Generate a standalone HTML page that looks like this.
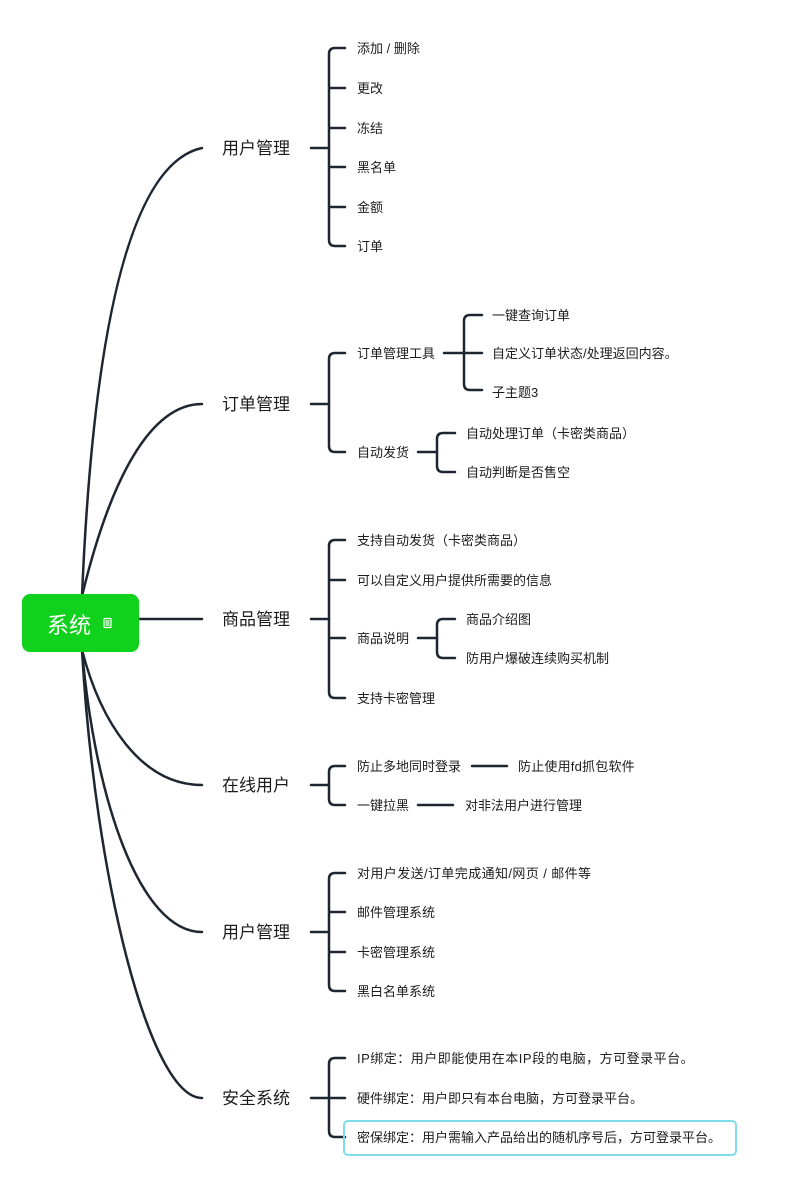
<!DOCTYPE html>
<html><head><meta charset="utf-8"><style>
html,body{margin:0;padding:0;background:#fff;}
svg{display:block;}
text{font-family:"Liberation Sans","Noto Sans CJK SC",sans-serif;fill:#1c1c1c;}
.s{font-size:13px;}
.m{font-size:17px;}
</style></head><body>
<svg width="800" height="1200" viewBox="0 0 800 1200" xmlns="http://www.w3.org/2000/svg">
<g fill="none" stroke="#1e2731" stroke-width="2.5" stroke-linecap="round">
<!-- root connectors -->
<path d="M82 596 Q100 170 202 148"/>
<path d="M82 596 C110 480 150 404 202 404"/>
<path d="M139 619 H202"/>
<path d="M82 650 C100 720 140 785 202 785"/>
<path d="M82 650 C95 800 140 932 202 932"/>
<path d="M82 650 C95 880 150 1098 202 1098"/>

<!-- section 1 -->
<path d="M311 148 H329"/>
<path d="M345 48 H335 Q329 48 329 54 V240 Q329 246 335 246 H345"/>
<path d="M329 88 H345 M329 128 H345 M329 167 H345 M329 207 H345"/>

<!-- section 2 -->
<path d="M311 404 H329"/>
<path d="M345 353 H335 Q329 353 329 359 V446 Q329 452 335 452 H345"/>
<path d="M444 353 H464"/>
<path d="M482 315 H470 Q464 315 464 321 V384 Q464 390 470 390 H482"/>
<path d="M464 353 H482"/>
<path d="M418 452 H437"/>
<path d="M455 433 H443 Q437 433 437 439 V466 Q437 472 443 472 H455"/>

<!-- section 3 -->
<path d="M311 619 H329"/>
<path d="M345 540 H335 Q329 540 329 546 V692 Q329 698 335 698 H345"/>
<path d="M329 580 H345 M329 638 H345"/>
<path d="M418 638 H437"/>
<path d="M455 619 H443 Q437 619 437 625 V652 Q437 658 443 658 H455"/>

<!-- section 4 -->
<path d="M311 785 H329"/>
<path d="M345 766 H335 Q329 766 329 772 V799 Q329 805 335 805 H345"/>
<path d="M472 766 H507"/>
<path d="M418 805 H453"/>

<!-- section 5 -->
<path d="M311 932 H329"/>
<path d="M345 873 H335 Q329 873 329 879 V985 Q329 991 335 991 H345"/>
<path d="M329 912 H345 M329 952 H345"/>

<!-- section 6 -->
<path d="M311 1098 H345"/>
<path d="M345 1058 H335 Q329 1058 329 1064 V1131 Q329 1137 335 1137 H345"/>
</g>

<!-- highlight box -->
<rect x="344" y="1121" width="392" height="34" rx="4" ry="4" fill="none" stroke="#7fdcec" stroke-width="2"/>

<!-- root -->
<rect x="22" y="594" width="117" height="58" rx="8" ry="8" fill="#10d21d"/>
<text x="47" y="633" style="font-size:22px;fill:#ffffff;">系统</text>
<g fill="none" stroke="#ffffff" stroke-width="1.2">
<rect x="104" y="618.5" width="7" height="9" rx="1"/>
<path d="M105.5 621 H109.5 M105.5 623 H109.5 M105.5 625 H109.5"/>
</g>

<!-- main labels -->
<text class="m" x="222" y="154">用户管理</text>
<text class="m" x="222" y="410">订单管理</text>
<text class="m" x="222" y="625">商品管理</text>
<text class="m" x="222" y="791">在线用户</text>
<text class="m" x="222" y="938">用户管理</text>
<text class="m" x="222" y="1104">安全系统</text>

<!-- section 1 children -->
<text class="s" x="357" y="53">添加 / 删除</text>
<text class="s" x="357" y="93">更改</text>
<text class="s" x="357" y="133">冻结</text>
<text class="s" x="357" y="172">黑名单</text>
<text class="s" x="357" y="212">金额</text>
<text class="s" x="357" y="251">订单</text>

<!-- section 2 -->
<text class="s" x="357" y="358">订单管理工具</text>
<text class="s" x="357" y="457">自动发货</text>
<text class="s" x="492" y="320">一键查询订单</text>
<text class="s" x="492" y="358">自定义订单状态/处理返回内容。</text>
<text class="s" x="492" y="397">子主题3</text>
<text class="s" x="466" y="438">自动处理订单（卡密类商品）</text>
<text class="s" x="466" y="477">自动判断是否售空</text>

<!-- section 3 -->
<text class="s" x="357" y="545">支持自动发货（卡密类商品）</text>
<text class="s" x="357" y="585">可以自定义用户提供所需要的信息</text>
<text class="s" x="357" y="643">商品说明</text>
<text class="s" x="357" y="703">支持卡密管理</text>
<text class="s" x="466" y="624">商品介绍图</text>
<text class="s" x="466" y="663">防用户爆破连续购买机制</text>

<!-- section 4 -->
<text class="s" x="357" y="771">防止多地同时登录</text>
<text class="s" x="357" y="810">一键拉黑</text>
<text class="s" x="518" y="771" style="letter-spacing:0.2px">防止使用fd抓包软件</text>
<text class="s" x="465" y="810">对非法用户进行管理</text>

<!-- section 5 -->
<text class="s" x="357" y="878" style="letter-spacing:0.4px">对用户发送/订单完成通知/网页 / 邮件等</text>
<text class="s" x="357" y="917">邮件管理系统</text>
<text class="s" x="357" y="957">卡密管理系统</text>
<text class="s" x="357" y="996">黑白名单系统</text>

<!-- section 6 -->
<text class="s" x="357" y="1063" style="letter-spacing:0.5px">IP绑定：用户即能使用在本IP段的电脑，方可登录平台。</text>
<text class="s" x="357" y="1103">硬件绑定：用户即只有本台电脑，方可登录平台。</text>
<text class="s" x="357" y="1142">密保绑定：用户需输入产品给出的随机序号后，方可登录平台。</text>
</svg>
</body></html>
